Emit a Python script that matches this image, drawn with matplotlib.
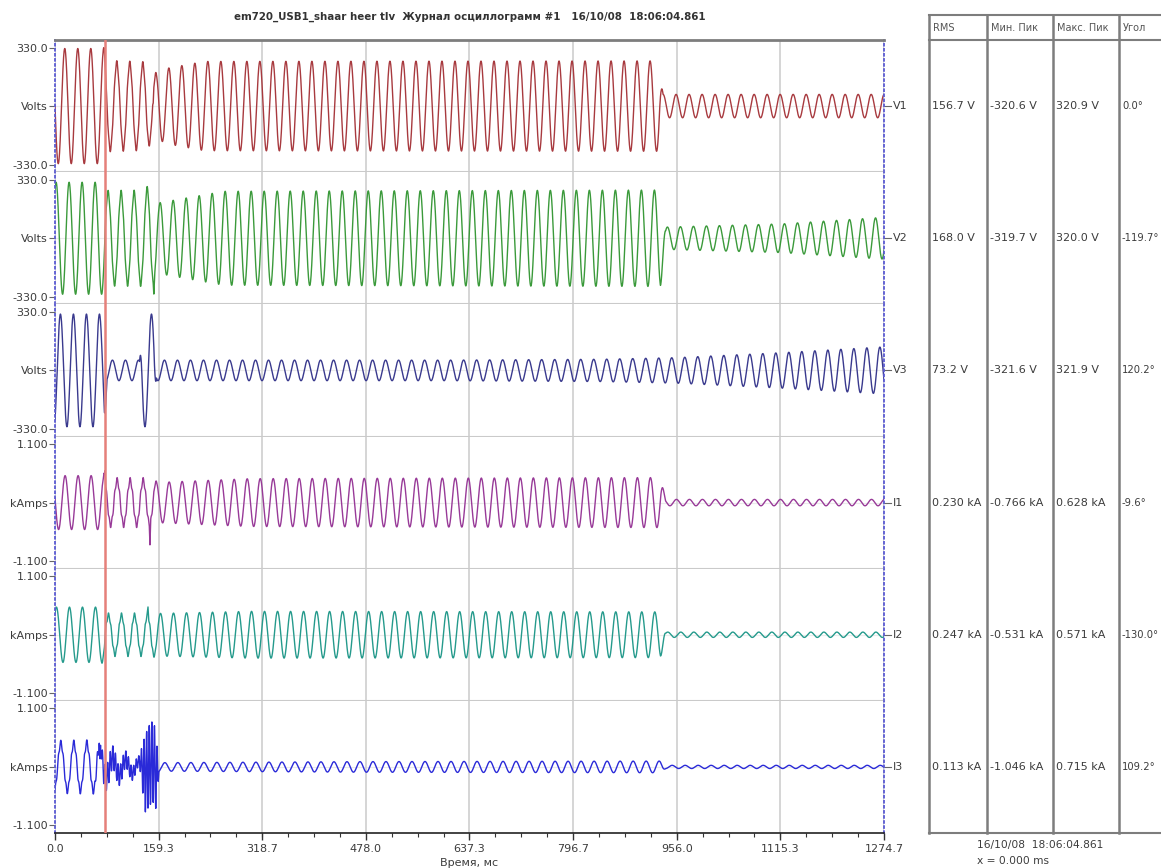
import numpy as np
import matplotlib.pyplot as plt
from matplotlib.lines import Line2D

plt.rcParams['font.family'] = ['DejaVu Sans']

# ---- record settings ----
t_end = 1274.7          # ms
fault_t = 76.9          # red cursor, ms
freq_hz = 50.0
title = "em720_USB1_shaar heer tlv  Журнал осциллограмм #1   16/10/08  18:06:04.861"

channels = ["V1", "V2", "V3", "I1", "I2", "I3"]
units = ["Volts", "Volts", "Volts", "kAmps", "kAmps", "kAmps"]
full_scale = [330.0, 330.0, 330.0, 1.1, 1.1, 1.1]
colors = ["#a83a3f", "#3b9a3b", "#3a3a8e", "#983a98", "#259a8c", "#2a2ad8"]
phase_deg = [90.0, -30.0, 210.0, 80.4, -40.0, 199.2]

# amplitude envelopes (time ms, peak value)
v1_env_t = [0, 76, 80, 140, 152, 175, 230, 928, 935, 1274.7]
v1_env_a = [325, 325, 248, 240, 180, 215, 252, 255, 66, 66]
v2_env_t = [0, 76, 80, 135, 145, 160, 260, 931, 939, 1117, 1274.7]
v2_env_a = [316, 316, 260, 260, 290, 200, 265, 272, 63, 81, 118]
v3_env_t = [0, 76, 80, 130, 134, 152, 156, 600, 840, 955, 1117, 1274.7]
v3_env_a = [318, 318, 58, 58, 318, 318, 58, 58, 63, 72, 100, 133]
i1_env_t = [0, 76, 80, 143, 160, 300, 931, 939, 1274.7]
i1_env_a = [0.507, 0.507, 0.42, 0.42, 0.38, 0.45, 0.47, 0.06, 0.06]
i2_env_t = [0, 76, 80, 143, 155, 300, 931, 939, 1274.7]
i2_env_a = [0.52, 0.52, 0.37, 0.37, 0.40, 0.44, 0.43, 0.05, 0.05]
i3_env_t = [0, 70, 78, 120, 136, 157, 162, 478, 931, 939, 1274.7]
i3_env_a = [0.45, 0.45, 0.2, 0.12, 0.1, 0.1, 0.08, 0.1, 0.11, 0.03, 0.03]

# 5th harmonic content (distortion during the fault)
v1_h_t = [0, 72, 78, 150, 160, 1274.7]
v1_h_a = [0, 0, 10, 10, 0, 0]
v2_h_t = [0, 72, 78, 150, 160, 1274.7]
v2_h_a = [0, 0, 10, 12, 0, 0]
v3_h_t = [0, 1274.7]
v3_h_a = [0, 0]
i1_h_t = [0, 70, 76, 150, 158, 1274.7]
i1_h_a = [0.0, 0.0, 0.05, 0.05, 0.0, 0.0]
i2_h_t = [0, 70, 76, 150, 158, 1274.7]
i2_h_a = [0.0, 0.0, 0.04, 0.04, 0.0, 0.0]
i3_h_t = [0, 60, 78, 130, 139, 155, 160, 1274.7]
i3_h_a = [0.05, 0.06, 0.25, 0.1, 0.75, 0.75, 0.0, 0.0]

# short transients (time ms, added value)
v1_spk_t, v1_spk_v = [151], [-50]
v2_spk_t, v2_spk_v = [152], [-60]
v3_spk_t, v3_spk_v = [], []
i1_spk_t, i1_spk_v = [77, 146], [0.2, -0.35]
i2_spk_t, i2_spk_v = [143], [0.15]
i3_spk_t, i3_spk_v = [69, 146], [-0.45, -0.25]

env_t = [v1_env_t, v2_env_t, v3_env_t, i1_env_t, i2_env_t, i3_env_t]
env_a = [v1_env_a, v2_env_a, v3_env_a, i1_env_a, i2_env_a, i3_env_a]
harm_t = [v1_h_t, v2_h_t, v3_h_t, i1_h_t, i2_h_t, i3_h_t]
harm_a = [v1_h_a, v2_h_a, v3_h_a, i1_h_a, i2_h_a, i3_h_a]
spk_t = [v1_spk_t, v2_spk_t, v3_spk_t, i1_spk_t, i2_spk_t, i3_spk_t]
spk_v = [v1_spk_v, v2_spk_v, v3_spk_v, i1_spk_v, i2_spk_v, i3_spk_v]

# table on the right
table_head = ["RMS", "Мин. Пик", "Макс. Пик", "Угол"]
rms = ["156.7 V", "168.0 V", "73.2 V", "0.230 kA", "0.247 kA", "0.113 kA"]
min_pk = ["-320.6 V", "-319.7 V", "-321.6 V", "-0.766 kA", "-0.531 kA", "-1.046 kA"]
max_pk = ["320.9 V", "320.0 V", "321.9 V", "0.628 kA", "0.571 kA", "0.715 kA"]
angle = ["0.0°", "-119.7°", "120.2°", "-9.6°", "-130.0°", "109.2°"]

x_ticks = [0.0, 159.3, 318.7, 478.0, 637.3, 796.7, 956.0, 1115.3, 1274.7]

# ---- build traces ----
t = np.arange(0, t_end + 0.25, 0.25)
w = 2 * np.pi * freq_hz / 1000.0


def trace(i):
    ph = np.deg2rad(phase_deg[i])
    y = np.interp(t, env_t[i], env_a[i]) * np.cos(w * t + ph)
    y += np.interp(t, harm_t[i], harm_a[i]) * np.cos(5 * (w * t + ph))
    for ts, v in zip(spk_t[i], spk_v[i]):
        y += np.interp(t, [ts - 1.0, ts, ts + 1.0], [0, v, 0])
    return y


# ---- layout (pixels) ----
W, H = 1161, 868
left_px, right_px, top_px, bot_px = 55, 884, 40, 833
panel_h = (bot_px - top_px) / 6

fig = plt.figure(figsize=(W / 100, H / 100), dpi=100)
blue_dot = "#5a5ad2"
txt_c = "#3c3c3c"

for i, ch in enumerate(channels):
    rect = [left_px / W, 1 - (top_px + (i + 1) * panel_h) / H,
            (right_px - left_px) / W, panel_h / H]
    ax = fig.add_axes(rect)
    R = full_scale[i]
    ax.axhline(0, color="#ebebeb", lw=0.8, zorder=0)
    ax.plot(t, trace(i), color=colors[i], lw=1.0, zorder=2)
    ax.axvline(fault_t, color="#e5807a", lw=1.8, zorder=3)
    ax.set_xlim(0, t_end)
    ax.set_ylim(-1.13 * R, 1.13 * R)

    ax.set_xticks(x_ticks)
    ax.set_xticks(np.linspace(0, t_end, 33), minor=True)
    ax.grid(axis="x", which="major", color="#d2d2d2", lw=1.3, zorder=0)

    for side in ["left", "right"]:
        ax.spines[side].set_color(blue_dot)
        ax.spines[side].set_linestyle((0, (1, 1.8)))
        ax.spines[side].set_linewidth(1.3)
    if i == 0:
        ax.spines["top"].set_color("#7d7d7d")
        ax.spines["top"].set_linewidth(2)
    else:
        ax.spines["top"].set_visible(False)
    if i < 5:
        ax.spines["bottom"].set_color("#cacaca")
        ax.spines["bottom"].set_linewidth(1.5)
        ax.tick_params(axis="x", which="both", bottom=False, labelbottom=False)
    else:
        ax.spines["bottom"].set_color("#222222")
        ax.spines["bottom"].set_linewidth(1.2)
        ax.set_xticklabels([f"{v:.1f}" for v in x_ticks])
        ax.tick_params(axis="x", which="major", length=5, width=1, color="#333",
                       labelsize=8, labelcolor=txt_c, pad=3)
        ax.tick_params(axis="x", which="minor", length=3, width=0.8, color="#333")
        ax.set_xlabel("Время, мс", fontsize=8, color=txt_c, labelpad=3)

    fmt = "{:.1f}" if units[i] == "Volts" else "{:.3f}"
    ax.set_yticks([-R, 0, R])
    ax.set_yticklabels([fmt.format(-R), units[i], fmt.format(R)])
    ax.tick_params(axis="y", length=4, width=0.8, color="#666",
                   labelsize=8, labelcolor=txt_c, pad=1)

    ax.plot([1.0, 1.009], [0.5, 0.5], transform=ax.transAxes, clip_on=False,
            color="#666", lw=0.8)
    ax.text(1.011, 0.5, ch, transform=ax.transAxes, va="center", ha="left",
            fontsize=8, color=txt_c)

fig.text((left_px + right_px) / 2 / W, 1 - 17 / H, title, ha="center", va="center",
         fontsize=7.4, fontweight="bold", color="#333")

# ---- table overlay in pixel coordinates ----
tab = fig.add_axes([0, 0, 1, 1])
tab.set_xlim(0, W)
tab.set_ylim(H, 0)
tab.axis("off")
col_x = [929, 987, 1053, 1119]
col_fs = [8, 8, 8, 7.2]
line_c = "#7d7d7d"
for y in [15, top_px, bot_px]:
    tab.add_line(Line2D([col_x[0], W], [y, y], color=line_c, lw=1.5))
for x in col_x:
    tab.add_line(Line2D([x, x], [15, bot_px], color=line_c, lw=1.8))
for x, head in zip(col_x, table_head):
    tab.text(x + 4, 28, head, fontsize=7, color="#555", va="center", ha="left")
for i in range(6):
    yc = top_px + (i + 0.5) * panel_h
    for x, fs, col in zip(col_x, col_fs, [rms, min_pk, max_pk, angle]):
        tab.text(x + 3, yc, col[i], fontsize=fs, color=txt_c, va="center", ha="left")

tab.text(977, 845, "16/10/08  18:06:04.861", fontsize=7.7, color=txt_c, va="center")
tab.text(977, 861, "x = 0.000 ms", fontsize=7.7, color=txt_c, va="center")

fig.savefig("out.png", dpi=100)
